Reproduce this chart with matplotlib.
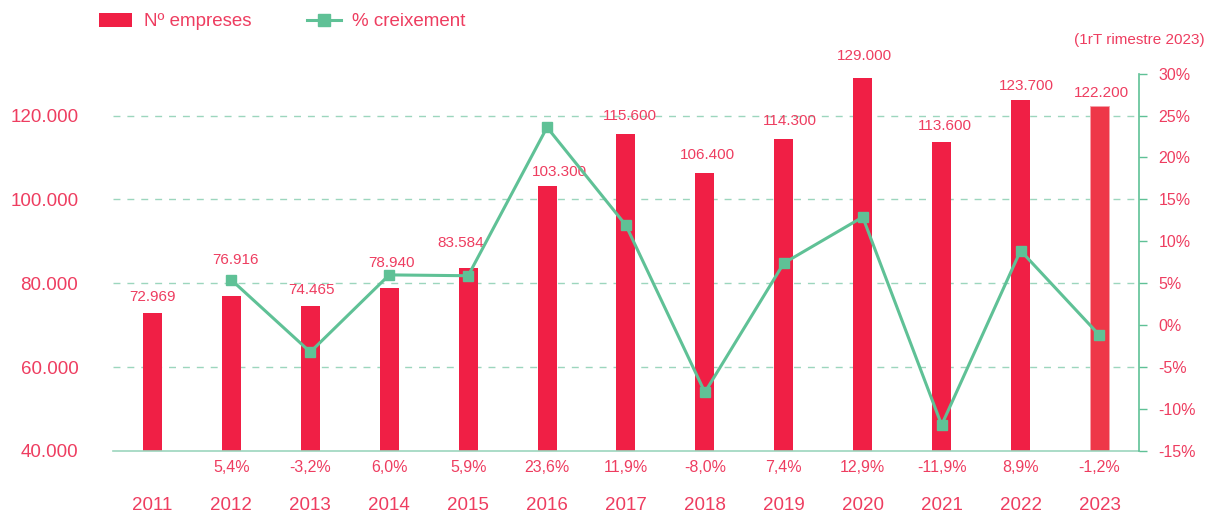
import matplotlib.pyplot as plt
from matplotlib.lines import Line2D
from matplotlib.patches import Patch
from matplotlib.ticker import FuncFormatter
import matplotlib.transforms as mtransforms

plt.rcParams['font.family'] = ['Liberation Sans', 'DejaVu Sans']

# data
years = ['2011', '2012', '2013', '2014', '2015', '2016', '2017', '2018', '2019', '2020', '2021', '2022', '2023']
empreses = [72969, 76916, 74465, 78940, 83584, 103300, 115600, 106400, 114300, 129000, 113600, 123700, 122200]
creixement = [None, 5.4, -3.2, 6.0, 5.9, 23.6, 11.9, -8.0, 7.4, 12.9, -11.9, 8.9, -1.2]

# label placement (pixels from the bar top), as in the original layout
label_dx = [0, 4, 1, 2, -7, 12, 4, 3, 6, 2, 3, 6, 2]
label_dy = [16, 36, 16, 25, 25, 14, 18, 18, 18, 22, 16, 14, 13]

red = '#f01f45'
red_last = '#ee3748'
green = '#5fc196'
grid_green = '#9cd6bd'
txt = '#ee3d60'

def miles(v, pos=None):
    return f'{int(v):,}'.replace(',', '.')

fig = plt.figure(figsize=(12.11, 5.15), dpi=100)
ax = fig.add_axes([0.0933, 0.1243, 0.8472, 0.7327])
ax2 = ax.twinx()

x = list(range(len(years)))
colors = [red] * (len(years) - 1) + [red_last]
bars = ax.bar(x, empreses, width=0.24, color=colors, zorder=2)
bars[-1].set_edgecolor('#f5a0a8')
bars[-1].set_linewidth(0.6)

for xi, v, dx, dy in zip(x, empreses, label_dx, label_dy):
    ax.annotate(miles(v), (xi, v), xytext=(dx, dy), textcoords='offset pixels',
                ha='center', va='center', color=txt, fontsize=11)

ax.set_xlim(-0.5, 12.5)
ax.set_ylim(40000, 130000)
ax.set_yticks([40000, 60000, 80000, 100000, 120000])
ax.yaxis.set_major_formatter(FuncFormatter(miles))
ax.tick_params(axis='y', length=0, pad=25, labelsize=13.5, labelcolor=txt)
ax.set_xticks(x)
ax.set_xticklabels(years, fontsize=13.5, color=txt)
ax.tick_params(axis='x', length=0, pad=33)

for gy in [60000, 80000, 100000, 120000]:
    ax.axhline(gy, color=grid_green, lw=1.0, dashes=(5, 5), zorder=1)

for s in ['top', 'left', 'right']:
    ax.spines[s].set_visible(False)
ax.spines['bottom'].set_color(grid_green)
ax.spines['bottom'].set_linewidth(1.2)

# percent line
px = [xi for xi, c in zip(x, creixement) if c is not None]
py = [c for c in creixement if c is not None]
ax2.plot(px, py, color=green, lw=2.2, marker='s', markersize=7, zorder=3)
ax2.set_ylim(-15, 30)
ax2.set_yticks(range(-15, 31, 5))
ax2.yaxis.set_major_formatter(FuncFormatter(lambda v, p: f'{int(v)}%'))
ax2.tick_params(axis='y', length=6, width=1, color=green, pad=8, labelsize=11.5, labelcolor=txt)
for s in ['top', 'left', 'bottom']:
    ax2.spines[s].set_visible(False)
ax2.spines['right'].set_color(green)
ax2.spines['right'].set_linewidth(1.2)

# percent labels under bars
trans = mtransforms.blended_transform_factory(ax.transData, ax.transAxes)
for xi, c in zip(px, py):
    ax.text(xi, -0.045, f'{c:.1f}%'.replace('.', ','), transform=trans, ha='center', va='center',
            color=txt, fontsize=11.5)

fig.text(0.995, 0.922, '(1rT rimestre 2023)', ha='right', va='center', color=txt, fontsize=11)

handles = [Patch(facecolor=red, edgecolor='none'),
           Line2D([0], [0], color=green, lw=2.2, marker='s', markersize=9, markevery=[1])]
leg = fig.legend(handles, ['Nº empreses', '% creixement'], loc='center left',
                 bbox_to_anchor=(0.0675, 0.958), ncol=2, frameon=False,
                 handlelength=1.8, handleheight=0.75, columnspacing=3.0, handletextpad=0.6,
                 prop={'size': 13.5})
for t in leg.get_texts():
    t.set_color(txt)

fig.savefig('out.png', dpi=100)
